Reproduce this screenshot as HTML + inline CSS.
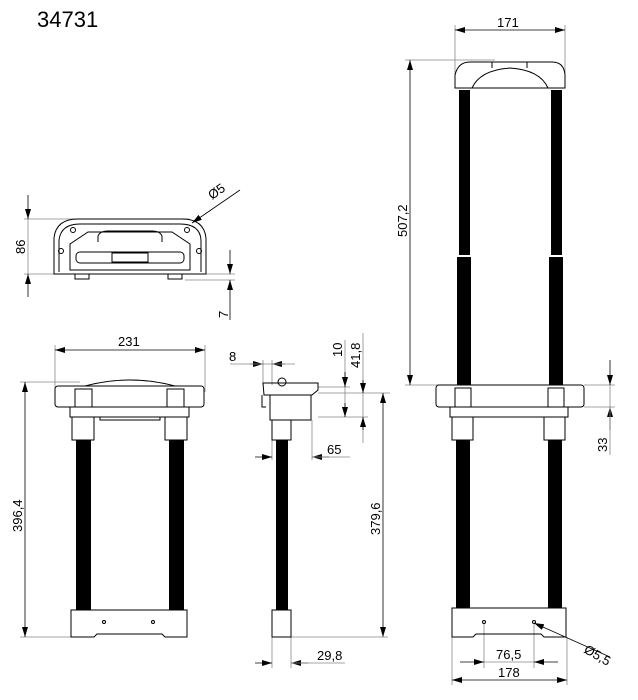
<!DOCTYPE html>
<html><head><meta charset="utf-8"><style>body{margin:0;background:#fff}svg{display:block}text{font-family:"Liberation Sans",sans-serif;fill:#000}</style></head><body>
<svg width="638" height="700" viewBox="0 0 638 700" xmlns="http://www.w3.org/2000/svg">
<defs><marker id="a" viewBox="0 0 10 6" refX="10" refY="3" markerWidth="10" markerHeight="6" orient="auto-start-reverse" markerUnits="userSpaceOnUse"><path d="M0,0L10,3L0,6z" fill="#000"/></marker></defs>
<text x="37" y="27" font-size="22">34731</text>
<g stroke="#888" stroke-width="0.8" fill="none">
<!-- top-left view dims -->
<line x1="24" y1="219" x2="190" y2="219"/><line x1="24" y1="274" x2="60" y2="274"/>
<line x1="28" y1="195" x2="28" y2="219" stroke="#000" marker-end="url(#a)"/><line x1="28" y1="297" x2="28" y2="274" stroke="#000" marker-end="url(#a)"/>
<line x1="28" y1="219" x2="28" y2="274"/>
<line x1="185" y1="274" x2="235" y2="274"/><line x1="185" y1="280" x2="235" y2="280"/>
<line x1="230" y1="250" x2="230" y2="274" stroke="#000" marker-end="url(#a)"/><line x1="230" y1="320" x2="230" y2="280" stroke="#000" marker-end="url(#a)"/>
<line x1="240" y1="190" x2="192" y2="223" stroke="#000" marker-end="url(#a)"/>
<!-- 231 -->
<line x1="55" y1="345" x2="55" y2="392"/><line x1="205" y1="345" x2="205" y2="392"/>
<line x1="55" y1="350" x2="205" y2="350" stroke="#000" marker-start="url(#a)" marker-end="url(#a)"/>
<!-- 396,4 -->
<line x1="20" y1="382" x2="80" y2="382"/><line x1="20" y1="637" x2="72" y2="637"/>
<line x1="25" y1="382" x2="25" y2="637" stroke="#000" marker-start="url(#a)" marker-end="url(#a)"/>
<!-- side view dims -->
<line x1="263" y1="360" x2="263" y2="385"/><line x1="272" y1="360" x2="272" y2="385"/>
<line x1="250" y1="364" x2="263" y2="364" stroke="#000" marker-end="url(#a)"/><line x1="285" y1="364" x2="272" y2="364" stroke="#000" marker-end="url(#a)"/>
<line x1="230" y1="364" x2="295" y2="364"/>
<line x1="318" y1="387" x2="350" y2="387"/><line x1="318" y1="393" x2="390" y2="393"/><line x1="318" y1="417" x2="368" y2="417"/>
<line x1="345" y1="340" x2="345" y2="417"/>
<line x1="345" y1="372" x2="345" y2="387" stroke="#000" marker-end="url(#a)"/><line x1="345" y1="403" x2="345" y2="417" stroke="#000" marker-end="url(#a)"/>
<line x1="363" y1="333" x2="363" y2="443"/>
<line x1="363" y1="380" x2="363" y2="393" stroke="#000" marker-end="url(#a)"/><line x1="363" y1="430" x2="363" y2="417" stroke="#000" marker-end="url(#a)"/>
<line x1="383" y1="393" x2="383" y2="637" stroke="#000" marker-start="url(#a)" marker-end="url(#a)"/>
<line x1="291" y1="637" x2="388" y2="637"/>
<line x1="312" y1="420" x2="312" y2="460"/><line x1="272" y1="440" x2="272" y2="460"/>
<line x1="255" y1="457" x2="272" y2="457" stroke="#000" marker-end="url(#a)"/><line x1="329" y1="457" x2="312" y2="457" stroke="#000" marker-end="url(#a)"/>
<line x1="312" y1="457" x2="350" y2="457"/>
<line x1="272" y1="637" x2="272" y2="668"/><line x1="291" y1="637" x2="291" y2="668"/>
<line x1="255" y1="663" x2="272" y2="663" stroke="#000" marker-end="url(#a)"/><line x1="308" y1="663" x2="291" y2="663" stroke="#000" marker-end="url(#a)"/>
<line x1="291" y1="663" x2="345" y2="663"/>
<!-- right view dims -->
<line x1="455" y1="25" x2="455" y2="75"/><line x1="565" y1="25" x2="565" y2="75"/>
<line x1="455" y1="30" x2="565" y2="30" stroke="#000" marker-start="url(#a)" marker-end="url(#a)"/>
<line x1="405" y1="60" x2="495" y2="60"/><line x1="405" y1="385" x2="440" y2="385"/>
<line x1="410" y1="60" x2="410" y2="385" stroke="#000" marker-start="url(#a)" marker-end="url(#a)"/>
<line x1="584" y1="385" x2="615" y2="385"/><line x1="584" y1="407" x2="615" y2="407"/>
<line x1="610" y1="360" x2="610" y2="385" stroke="#000" marker-end="url(#a)"/><line x1="610" y1="430" x2="610" y2="407" stroke="#000" marker-end="url(#a)"/>
<line x1="610" y1="385" x2="610" y2="455"/>
<line x1="484" y1="623" x2="484" y2="668"/><line x1="534" y1="623" x2="534" y2="668"/>
<line x1="460" y1="662" x2="484" y2="662" stroke="#000" marker-end="url(#a)"/><line x1="558" y1="662" x2="534" y2="662" stroke="#000" marker-end="url(#a)"/>
<line x1="484" y1="662" x2="534" y2="662"/>
<line x1="452" y1="637" x2="452" y2="685"/><line x1="567" y1="637" x2="567" y2="685"/>
<line x1="452" y1="680" x2="567" y2="680" stroke="#000" marker-start="url(#a)" marker-end="url(#a)"/>
<line x1="610" y1="657" x2="534" y2="623" stroke="#000" marker-end="url(#a)"/>
</g>
<g font-size="13">
<text transform="translate(25,254) rotate(-90)">86</text>
<text transform="translate(228,318) rotate(-90)">7</text>
<text transform="translate(212,200) rotate(-35)">Ø5</text>
<text x="118" y="346">231</text>
<text transform="translate(22,532) rotate(-90)">396,4</text>
<text x="229" y="361">8</text>
<text transform="translate(342,357) rotate(-90)">10</text>
<text transform="translate(360,368) rotate(-90)">41,8</text>
<text transform="translate(380,535) rotate(-90)">379,6</text>
<text x="327" y="454">65</text>
<text x="317" y="660">29,8</text>
<text x="497" y="27">171</text>
<text transform="translate(407,237) rotate(-90)">507,2</text>
<text transform="translate(607,452) rotate(-90)">33</text>
<text x="496" y="659">76,5</text>
<text x="498" y="677">178</text>
<text transform="translate(583,652) rotate(30)">Ø5,5</text>
</g>
<g stroke="#000" stroke-width="1" fill="none">
<!-- top-left view -->
<path d="M54,274 L54,238 Q56,219 78,219 L182,219 Q204,219 206,238 L206,274 Z"/>
<path d="M59,272 L59,240 Q61,224 80,224 L180,224 Q200,224 201,240 L201,272"/>
<path d="M70,270 L70,244 L88,232 L172,232 L190,244 L190,270 Z"/>
<path d="M98,242 L98,236 Q100,231 108,231 L152,231 Q160,231 162,236 L162,242"/>
<rect x="76" y="252" width="108" height="11" rx="4"/>
<rect x="112" y="253" width="36" height="9"/>
<circle cx="73" cy="230" r="2.5"/><circle cx="187" cy="230" r="2.5"/>
<circle cx="61" cy="251" r="2.5"/><circle cx="199" cy="251" r="2.5"/>
<path d="M75,274 L75,279 L89,279 L89,274 M168,274 L168,279 L182,279 L182,274"/>
<!-- front view left -->
<path d="M85,386 Q130,374 175,386"/>
<rect x="55" y="386" width="149" height="21" rx="3"/>
<rect x="70" y="407" width="119" height="10"/>
<path d="M100,417 L100,420 L160,420 L160,417"/>
<rect x="75" y="389" width="17" height="18"/><rect x="167" y="389" width="17" height="18"/>
<rect x="72" y="417" width="22" height="23"/><rect x="165" y="417" width="22" height="23"/>
<path d="M71,610 L187,610 L187,637 L165,637 L162,634 L97,634 L94,637 L71,637 Z"/>
<circle cx="104" cy="622" r="1.5"/><circle cx="153" cy="622" r="1.5"/>
<!-- side -->
<path d="M263,383 L318,383 L318,390 L312,395 L264,395 Z"/>
<rect x="270" y="395" width="41" height="25"/>
<path d="M262,395 L262,407 L266,407"/>
<circle cx="282" cy="382" r="4"/>
<rect x="272" y="420" width="19" height="20"/>
<rect x="272" y="610" width="19" height="27"/>
<!-- right view -->
<path d="M455,88 L455,75 Q458,62 470,62 L552,62 Q564,62 565,75 L565,88 Z"/>
<path d="M472,88 Q480,70 510,68 Q540,70 548,88" />
<line x1="492" y1="62" x2="492" y2="68"/><line x1="527" y1="62" x2="527" y2="68"/>
<rect x="436" y="385" width="148" height="22" rx="3"/>
<rect x="450" y="407" width="118" height="10"/>
<rect x="455" y="388" width="16" height="19"/><rect x="548" y="388" width="16" height="19"/>
<rect x="452" y="417" width="21" height="23"/><rect x="544" y="417" width="21" height="23"/>
<path d="M452,608 L566,608 L566,637 L544,637 L541,634 L476,634 L473,637 L452,637 Z"/>
<circle cx="484" cy="622" r="1.5"/><circle cx="534" cy="622" r="1.5"/>
</g>
<g fill="#000">
<rect x="76" y="440" width="15" height="170"/><rect x="169" y="440" width="15" height="170"/>
<rect x="276" y="440" width="12" height="170"/>
<rect x="459" y="90" width="11" height="165"/><rect x="551" y="90" width="11" height="165"/>
<rect x="457" y="257" width="14" height="128"/><rect x="549" y="257" width="14" height="128"/>
<rect x="456" y="440" width="14" height="168"/><rect x="548" y="440" width="14" height="168"/>
</g>
</svg>
</body></html>
